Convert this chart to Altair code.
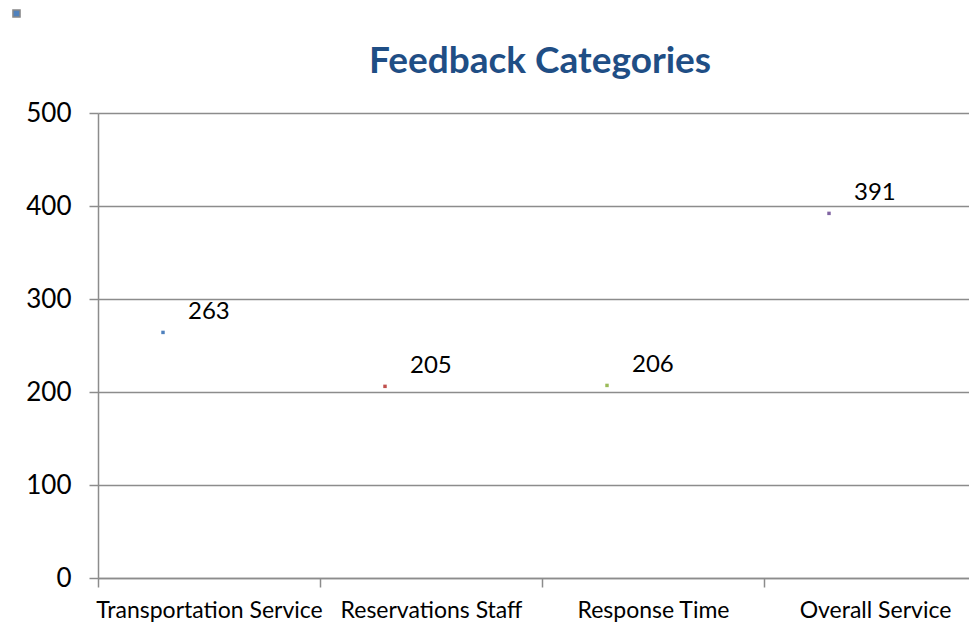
import altair as alt
import pandas as pd

categories = ["Transportation Service", "Reservations Staff", "Response Time", "Overall Service"]
values = [263, 205, 206, 391]
colors = ["#4F81BD", "#C0504D", "#9BBB59", "#8064A2"]
chart_title = "Feedback Categories"

df = pd.DataFrame({"category": categories, "value": values})
title_df = pd.DataFrame({"t": [chart_title]})

FONT = "Lato"
GRID = "#8C8C8C"

x_enc = alt.X(
    "category:N",
    sort=categories,
    scale=alt.Scale(range=[0, 888], paddingInner=0, paddingOuter=0),
    axis=alt.Axis(
        title=None, labelAngle=0, tickBand="extent", grid=False,
        domainColor=GRID, domainWidth=1.5, tickColor=GRID, tickWidth=1.5, tickSize=9,
        labelFont=FONT, labelFontSize=23, labelColor="#000000", labelPadding=12,
        labelLimit=0, labelOverlap=False,
    ),
)
y_enc = alt.Y(
    "value:Q",
    scale=alt.Scale(domain=[0, 500], nice=False),
    axis=alt.Axis(
        title=None, values=[0, 100, 200, 300, 400, 500],
        grid=True, gridColor=GRID, gridWidth=1.5,
        domainColor=GRID, domainWidth=1.5, tickColor=GRID, tickWidth=1.5, tickSize=9,
        labelFont=FONT, labelFontSize=26, labelColor="#000000", labelPadding=18,
    ),
)

points = alt.Chart(df).mark_point(
    shape="square", filled=True, size=12, opacity=1, xOffset=-46, yOffset=-1
).encode(
    x=x_enc,
    y=y_enc,
    color=alt.Color(
        "category:N",
        scale=alt.Scale(domain=categories, range=colors),
        legend=alt.Legend(
            values=[categories[0]], orient="none", legendX=-86, legendY=-104,
            title=None, labelExpr="''", symbolType="square", symbolSize=50,
            symbolStrokeColor="#888888", symbolStrokeWidth=1.5, padding=0,
            labelFontSize=1,
        ),
    ),
)

labels = alt.Chart(df).mark_text(
    align="left", baseline="middle", dx=-21, dy=-21,
    font=FONT, fontSize=24, color="#000000"
).encode(
    x=alt.X("category:N", sort=categories),
    y="value:Q",
    text="value:Q",
)

title = alt.Chart(title_df).mark_text(
    align="center", baseline="alphabetic", font=FONT, fontSize=37,
    fontWeight="bold", color="#1F4E85"
).encode(
    x=alt.value(442),
    y=alt.value(-40),
    text="t:N",
)

chart = alt.layer(points, labels, title).properties(
    width=871,
    height=465,
    padding={"left": 90, "top": 105, "right": 0, "bottom": 45},
    autosize=alt.AutoSizeParams(type="none"),
).configure_view(stroke=None)

chart.save("out.html", embed_options={"renderer": "svg", "actions": False})
